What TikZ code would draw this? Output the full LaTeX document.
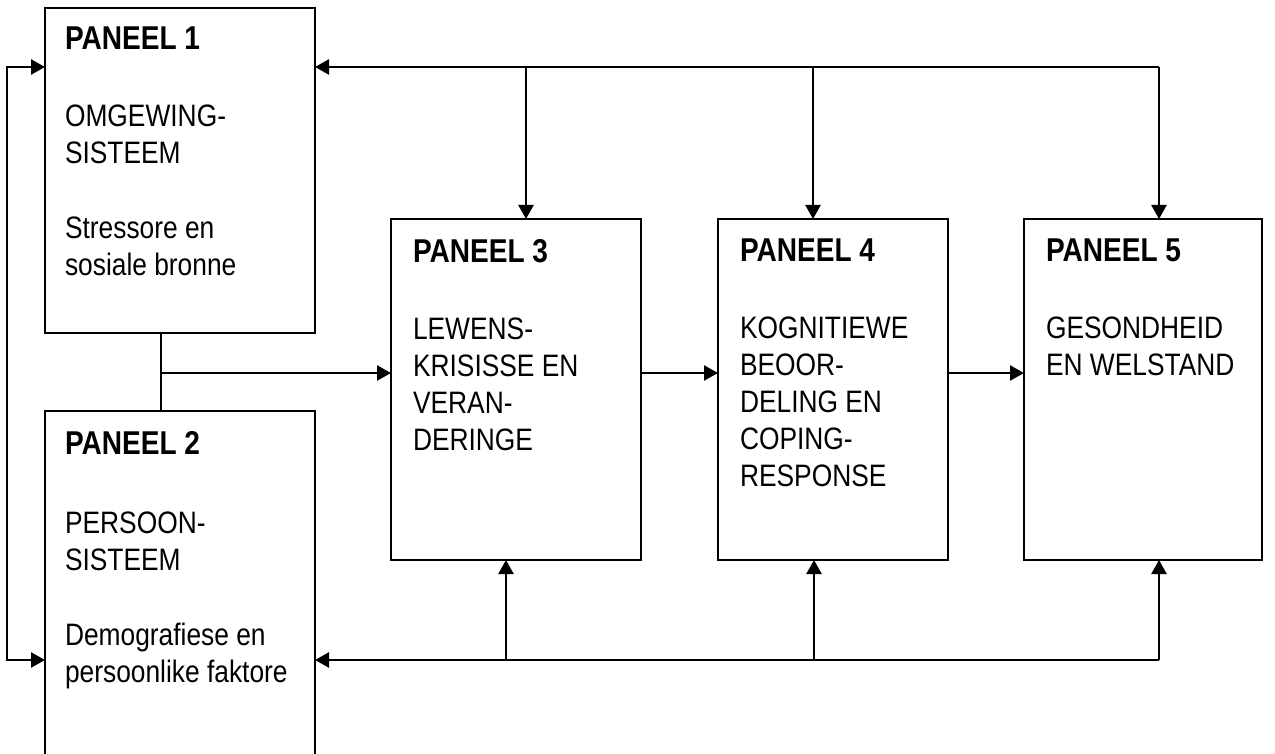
\documentclass[tikz,border=0pt]{standalone}
\usepackage{fontspec}
\setmainfont{Liberation Sans}[FakeStretch=0.85]
\usetikzlibrary{arrows.meta,calc}
\newcommand{\ptitle}[1]{{\fontsize{33}{37}\selectfont\bfseries #1}}
\begin{document}
\begin{tikzpicture}[x=1pt,y=-1pt,
  panel/.style={draw,line width=2.5pt,inner sep=0pt,outer sep=0pt,anchor=north west},
  txt/.style={anchor=north west,inner sep=0pt,outer sep=0pt,align=left,font=\fontsize{31}{37}\selectfont},
  ln/.style={line width=2.5pt},
  arr/.style={line width=2.5pt,-{Triangle[length=14pt,width=15pt]}},
  arrtwo/.style={line width=2.5pt,{Triangle[length=14pt,width=15pt]}-{Triangle[length=14pt,width=15pt]}}]
\useasboundingbox (0,0) rectangle (1275,754);
\clip (0,0) rectangle (1275,754);
% panels
\node[panel,minimum width=270pt,minimum height=325pt] (p1) at (45,8) {};
\node[panel,minimum width=270pt,minimum height=360pt] (p2) at (45,411) {};
\node[panel,minimum width=250pt,minimum height=341pt] (p3) at (391,219) {};
\node[panel,minimum width=230pt,minimum height=341pt] (p4) at (718,219) {};
\node[panel,minimum width=238pt,minimum height=341pt] (p5) at (1024,219) {};
% texts
\node[txt] (t1) at (65,27) {\ptitle{PANEEL 1}\\[40pt] OMGEWING-\\ SISTEEM\\[38pt] Stressore en\\ sosiale bronne};
\node[txt] (t2) at (65,431) {\ptitle{PANEEL 2}\\[42pt] PERSOON-\\ SISTEEM\\[38pt] Demografiese en\\ persoonlike faktore};
\node[txt] (t3) at (413,239) {\ptitle{PANEEL 3}\\[40pt] LEWENS-\\ KRISISSE EN\\ VERAN-\\ DERINGE};
\node[txt] (t4) at (740,239) {\ptitle{PANEEL 4}\\[40pt] KOGNITIEWE\\ BEOOR-\\ DELING EN\\ COPING-\\ RESPONSE};
\node[txt] (t5) at (1046,239) {\ptitle{PANEEL 5}\\[40pt] GESONDHEID\\ EN WELSTAND};
% junction coordinates
\coordinate (a3) at (526,67);
\coordinate (a4) at (813,67);
\coordinate (a5) at (1159,67);
\coordinate (b3) at (506,660);
\coordinate (b4) at (814,660);
\coordinate (b5) at (1159,660);
\coordinate (l1) at (7,67);
\coordinate (l2) at (7,660);
\coordinate (j) at (161,373);
% top feedback
\draw[arr] (a5) -- (a5 -| p1.east);
\draw[arr] (a3) -- (a3 |- p3.north);
\draw[arr] (a4) -- (a4 |- p4.north);
\draw[arr] (a5) -- (a5 |- p5.north);
% bottom feedback
\draw[arr] (b5) -- (b5 -| p2.east);
\draw[arr] (b3) -- (b3 |- p3.south);
\draw[arr] (b4) -- (b4 |- p4.south);
\draw[arr] (b5) -- (b5 |- p5.south);
% left loop
\draw[arrtwo] (l1 -| p1.west) -- (l1) -- (l2) -- (l2 -| p2.west);
% panel 1/2 junction
\draw[ln] (p1.south -| j) -- (p2.north -| j);
\draw[arr] (j) -- (j -| p3.west);
% main flow
\draw[arr] (p3.east |- j) -- (p4.west |- j);
\draw[arr] (p4.east |- j) -- (p5.west |- j);
\end{tikzpicture}
\end{document}
